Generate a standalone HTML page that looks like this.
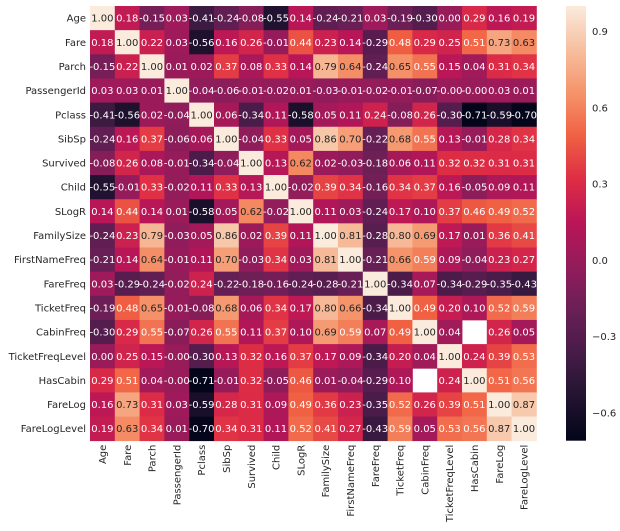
<!DOCTYPE html>
<html><head><meta charset="utf-8">
<style>
body{margin:0;background:#fff;}
svg{display:block;font-family:"DejaVu Sans","Liberation Sans",sans-serif;}
</style></head>
<body>
<svg id="chart" width="620" height="531" viewBox="0 0 620 531" xmlns="http://www.w3.org/2000/svg">
<defs><linearGradient id="cbg" x1="0" y1="1" x2="0" y2="0"></linearGradient></defs>
<g id="cells"></g><g id="ylabels"></g><g id="xlabels"></g><g id="cbar"></g>
</svg>
<script>
const labels = ["Age","Fare","Parch","PassengerId","Pclass","SibSp","Survived","Child","SLogR","FamilySize","FirstNameFreq","FareFreq","TicketFreq","CabinFreq","TicketFreqLevel","HasCabin","FareLog","FareLogLevel"];
const values = [
[1.00,0.18,-0.15,0.03,-0.41,-0.24,-0.08,-0.55,0.14,-0.24,-0.21,0.03,-0.19,-0.30,0.00,0.29,0.16,0.19],
[0.18,1.00,0.22,0.03,-0.56,0.16,0.26,-0.01,0.44,0.23,0.14,-0.29,0.48,0.29,0.25,0.51,0.73,0.63],
[-0.15,0.22,1.00,0.01,0.02,0.37,0.08,0.33,0.14,0.79,0.64,-0.24,0.65,0.55,0.15,0.04,0.31,0.34],
[0.03,0.03,0.01,1.00,-0.04,-0.06,-0.01,-0.02,0.01,-0.03,-0.01,-0.02,-0.01,-0.07,-0.00,-0.00,0.03,0.01],
[-0.41,-0.56,0.02,-0.04,1.00,0.06,-0.34,0.11,-0.58,0.05,0.11,0.24,-0.08,0.26,-0.30,-0.71,-0.59,-0.70],
[-0.24,0.16,0.37,-0.06,0.06,1.00,-0.04,0.33,0.05,0.86,0.70,-0.22,0.68,0.55,0.13,-0.01,0.28,0.34],
[-0.08,0.26,0.08,-0.01,-0.34,-0.04,1.00,0.13,0.62,0.02,-0.03,-0.18,0.06,0.11,0.32,0.32,0.31,0.31],
[-0.55,-0.01,0.33,-0.02,0.11,0.33,0.13,1.00,-0.02,0.39,0.34,-0.16,0.34,0.37,0.16,-0.05,0.09,0.11],
[0.14,0.44,0.14,0.01,-0.58,0.05,0.62,-0.02,1.00,0.11,0.03,-0.24,0.17,0.10,0.37,0.46,0.49,0.52],
[-0.24,0.23,0.79,-0.03,0.05,0.86,0.02,0.39,0.11,1.00,0.81,-0.28,0.80,0.69,0.17,0.01,0.36,0.41],
[-0.21,0.14,0.64,-0.01,0.11,0.70,-0.03,0.34,0.03,0.81,1.00,-0.21,0.66,0.59,0.09,-0.04,0.23,0.27],
[0.03,-0.29,-0.24,-0.02,0.24,-0.22,-0.18,-0.16,-0.24,-0.28,-0.21,1.00,-0.34,0.07,-0.34,-0.29,-0.35,-0.43],
[-0.19,0.48,0.65,-0.01,-0.08,0.68,0.06,0.34,0.17,0.80,0.66,-0.34,1.00,0.49,0.20,0.10,0.52,0.59],
[-0.30,0.29,0.55,-0.07,0.26,0.55,0.11,0.37,0.10,0.69,0.59,0.07,0.49,1.00,0.04,null,0.26,0.05],
[0.00,0.25,0.15,-0.00,-0.30,0.13,0.32,0.16,0.37,0.17,0.09,-0.34,0.20,0.04,1.00,0.24,0.39,0.53],
[0.29,0.51,0.04,-0.00,-0.71,-0.01,0.32,-0.05,0.46,0.01,-0.04,-0.29,0.10,null,0.24,1.00,0.51,0.56],
[0.16,0.73,0.31,0.03,-0.59,0.28,0.31,0.09,0.49,0.36,0.23,-0.35,0.52,0.26,0.39,0.51,1.00,0.87],
[0.19,0.63,0.34,0.01,-0.70,0.34,0.31,0.11,0.52,0.41,0.27,-0.43,0.59,0.05,0.53,0.56,0.87,1.00]
];
const cbTicks = [0.9,0.6,0.3,0.0,-0.3,-0.6];
const cbTickLabels = ["0.9","0.6","0.3","0.0","−0.3","−0.6"];

const NS="http://www.w3.org/2000/svg";
const X0=90, Y0=6, CW=24.8, CH=24.15;
const n=labels.length;
let vmin=Infinity, vmax=-Infinity;
values.forEach(r=>r.forEach(v=>{if(v!==null){vmin=Math.min(vmin,v);vmax=Math.max(vmax,v);}}));
const stops=[[3,5,26],[34,19,49],[69,28,71],[106,31,86],[146,28,91],[185,22,87],[221,44,69],[240,96,67],[245,147,106],[246,191,159],[250,235,221]];
function cmap(t){t=Math.max(0,Math.min(1,t));const p=t*10,i=Math.min(9,Math.floor(p)),f=p-i;const a=stops[i],b=stops[i+1];return [0,1,2].map(k=>Math.round(a[k]+(b[k]-a[k])*f));}
function rgb(c){return `rgb(${c[0]},${c[1]},${c[2]})`;}
function norm(v){return (v-vmin)/(vmax-vmin);}
function xPos(j){return X0+j*CW;}
function yPos(i){return Y0+i*CH;}
function mk(tag,attrs,parent){const e=document.createElementNS(NS,tag);for(const k in attrs)e.setAttribute(k,attrs[k]);parent.appendChild(e);return e;}

const cells=document.getElementById('cells');
for(let i=0;i<n;i++)for(let j=0;j<n;j++){
  const v=values[i][j]; if(v===null) continue;
  const c=cmap(norm(v));
  const r=mk('rect',{x:xPos(j),y:yPos(i),width:CW+0.4,height:CH+0.4,fill:rgb(c)},cells);
  
  
  const lum=(0.2126*c[0]+0.7152*c[1]+0.0722*c[2])/255;
  const t=mk('text',{x:xPos(j)+CW/2,y:yPos(i)+CH/2+3.6,'text-anchor':'middle','font-size':'10',fill:lum>0.6?'#262626':'#ffffff'},cells);
  t.textContent=(v<0||Object.is(v,-0)?'-':'')+Math.abs(v).toFixed(2);
  
  
}
const ylg=document.getElementById('ylabels'), xlg=document.getElementById('xlabels');
labels.forEach((l,i)=>{
  const t=mk('text',{x:X0-4,y:yPos(i)+CH/2+3.6,'text-anchor':'end','font-size':'10',fill:'#262626'},ylg);
  t.textContent=l;
  
  
  const cx=xPos(i)+CW/2+3.6, cy=Y0+n*CH+4;
  const u=mk('text',{x:cx,y:cy,'text-anchor':'end','font-size':'10',fill:'#262626',transform:`rotate(-90 ${cx} ${cy})`},xlg);
  u.textContent=l;
  
  
});
const g=document.getElementById('cbg');
for(let k=0;k<=10;k++){mk('stop',{offset:(k*10)+'%','stop-color':rgb(stops[k])},g);}
const cb=document.getElementById('cbar');
const CBX=566,CBW=20,CBT=Y0,CBB=Y0+n*CH;
function cbY(v){return CBB-(v-vmin)/(vmax-vmin)*(CBB-CBT);}
const bar=mk('rect',{x:CBX,y:CBT,width:CBW,height:CBB-CBT,fill:'url(#cbg)'},cb);


cbTicks.forEach((v,k)=>{
  const t=mk('text',{x:CBX+CBW+6,y:cbY(v)+3.6,'font-size':'10',fill:'#262626'},cb);
  t.textContent=cbTickLabels[k];
  
  
});
</script>
</body></html>
